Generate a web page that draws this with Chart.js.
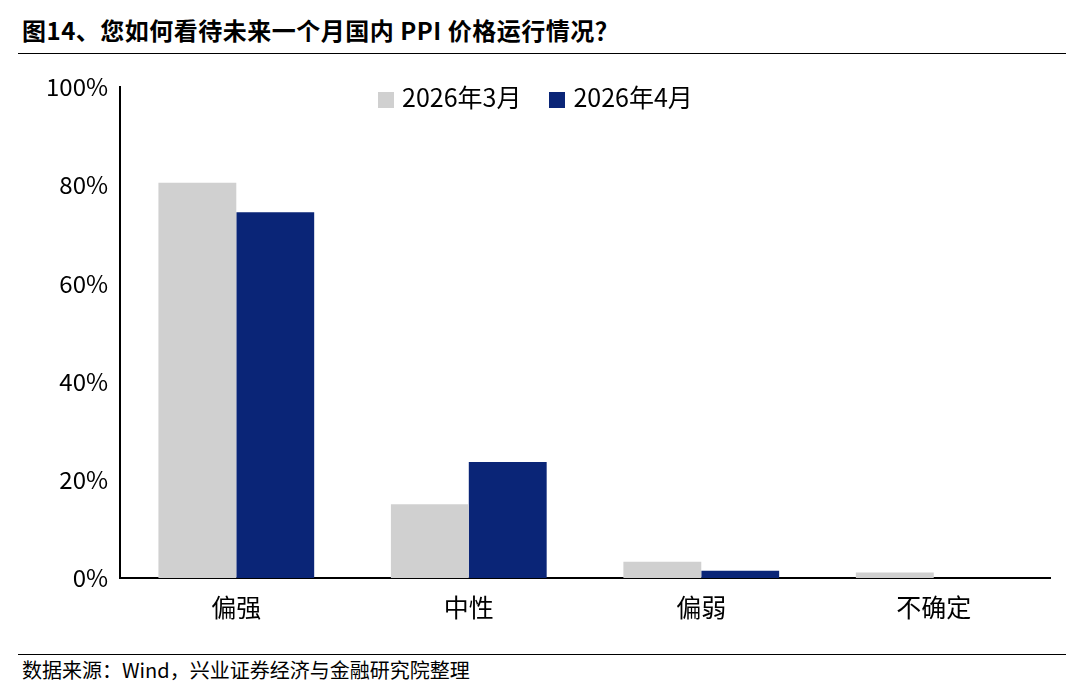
<!DOCTYPE html>
<html><head><meta charset="utf-8">
<script src="https://cdn.jsdelivr.net/npm/chart.js@4/dist/chart.umd.min.js"></script>
<style>
body{margin:0;width:1080px;height:694px;background:#fff;font-family:"Noto Sans CJK SC","Noto Sans",sans-serif;position:relative;overflow:hidden}
#title{position:absolute;left:22px;top:12px;font-size:24px;font-weight:bold;color:#000;letter-spacing:0.5px}
#tline{position:absolute;left:18px;right:14px;top:53px;border-top:1.5px solid #000}
#bline{position:absolute;left:18px;right:14px;top:654px;border-top:1.5px solid #000}
#src{position:absolute;left:22px;top:655px;font-size:20px;color:#000}
#wrap{position:absolute;left:0;top:60px;width:1080px;height:590px}
#legend{position:absolute;top:78px;left:378px;font-size:25px;display:flex;gap:28px;align-items:center}
#legend span.sw{display:inline-block;width:16px;height:16px;margin-right:8px;vertical-align:middle}
</style></head><body>
<div id="title">图14、您如何看待未来一个月国内 PPI 价格运行情况？</div>
<div id="tline"></div>
<div id="wrap"><canvas id="c"></canvas></div>
<div id="legend"><div><span class="sw" style="background:#d0d0d0"></span>2026年3月</div><div><span class="sw" style="background:#0a2577"></span>2026年4月</div></div>
<div id="bline"></div>
<div id="src">数据来源：Wind，兴业证券经济与金融研究院整理</div>
<script>
const categories = ['偏强', '中性', '偏弱', '不确定'];
const seriesNames = ['2026年3月', '2026年4月'];
const march = [80.5, 15.0, 3.3, 1.1];
const april = [74.5, 23.6, 1.5, 0];
const yTicks = [0, 20, 40, 60, 80, 100];

new Chart(document.getElementById('c'), {
  type: 'bar',
  data: {
    labels: categories,
    datasets: [
      { label: seriesNames[0], data: march, backgroundColor: '#d0d0d0' },
      { label: seriesNames[1], data: april, backgroundColor: '#0a2577' },
    ],
  },
  options: {
    responsive: true,
    maintainAspectRatio: false,
    animation: false,
    categoryPercentage: 0.67,
    barPercentage: 1,
    layout: { padding: { left: 40, right: 30, top: 27, bottom: 14 } },
    plugins: { legend: { display: false }, tooltip: { enabled: false } },
    scales: {
      x: {
        grid: { display: false, drawTicks: false },
        border: { color: '#000', width: 2 },
        ticks: { color: '#000', font: { size: 25, family: '"Noto Sans CJK SC"' }, padding: 14 },
      },
      y: {
        min: 0, max: 100,
        afterBuildTicks: s => { s.ticks = yTicks.map(v => ({ value: v })); },
        grid: { display: false, drawTicks: true, tickLength: 6, tickColor: '#000' },
        border: { color: '#000', width: 2 },
        ticks: { color: '#000', font: { size: 24, family: '"Noto Sans CJK SC"' }, padding: 6, callback: v => v + '%' },
      },
    },
  },
});
</script>
</body></html>
